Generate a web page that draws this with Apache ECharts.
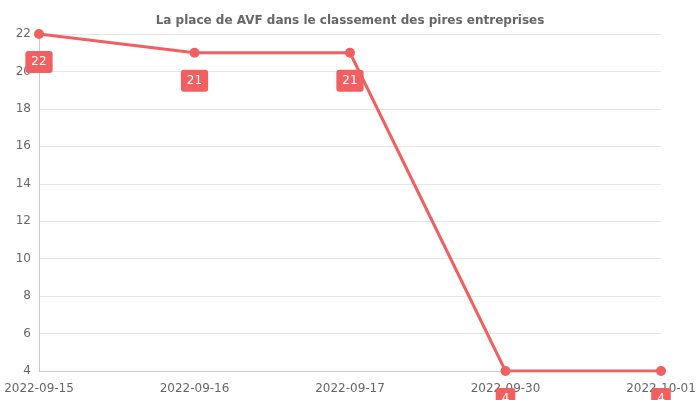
<!DOCTYPE html>
<html><head><meta charset="utf-8">
<script src="https://cdn.jsdelivr.net/npm/echarts@6/dist/echarts.min.js"></script>
<style>html,body{margin:0;padding:0}#c{width:700px;height:400px}</style>
</head><body><div id="c"></div>
<script>
const categories = ['2022-09-15','2022-09-16','2022-09-17','2022-09-30','2022-10-01'];
const values = [22, 21, 21, 4, 4];
const chart = echarts.init(document.getElementById('c'));
chart.setOption({
  animation:false,
  title:{text:'La place de AVF dans le classement des pires entreprises',left:'center',top:10,
    textStyle:{fontFamily:'DejaVu Sans',fontSize:12,fontWeight:'bold',color:'#666'}},
  grid:{left:39,right:39,top:34,bottom:29},
  xAxis:{type:'category',data:categories,boundaryGap:false,
    axisLine:{lineStyle:{color:'#ccc'}},axisTick:{show:false},
    axisLabel:{color:'#666',fontFamily:'DejaVu Sans',fontSize:12,interval:0,margin:12}},
  yAxis:{type:'value',min:4,max:22,interval:2,
    axisLine:{show:true,lineStyle:{color:'#ccc'}},
    splitLine:{lineStyle:{color:'#e6e6e6'}},
    axisLabel:{color:'#666',fontFamily:'DejaVu Sans',fontSize:12,margin:8}},
  series:[{type:'line',data:values,color:'#f06060',symbol:'circle',symbolSize:10,
    lineStyle:{width:3},
    label:{show:true,position:'bottom',distance:12,color:'#fff',backgroundColor:'#f06060',
      borderRadius:3,padding:[5,6],fontFamily:'DejaVu Sans',fontSize:12}}]
});
</script></body></html>
